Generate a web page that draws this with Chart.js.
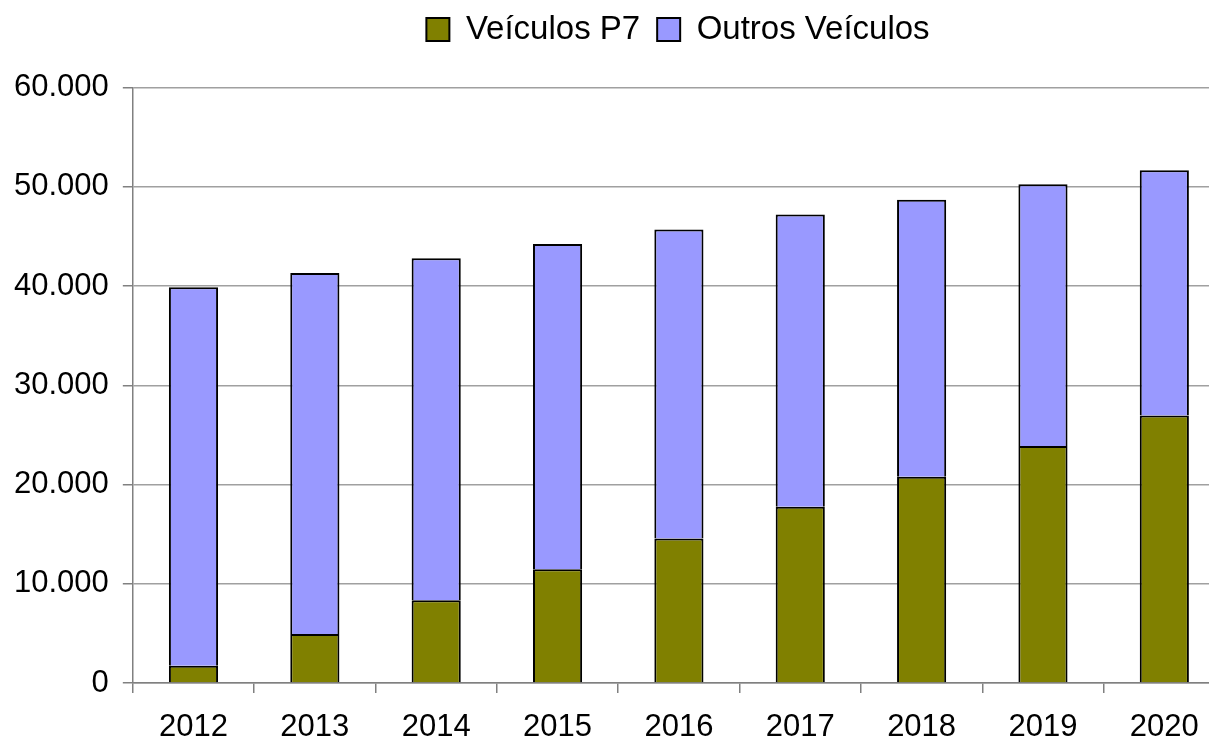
<!DOCTYPE html>
<html>
<head>
<meta charset="utf-8">
<script src="https://cdn.jsdelivr.net/npm/chart.js@4.4.0/dist/chart.umd.min.js"></script>
<style>
  html, body { margin: 0; padding: 0; background: #fff; overflow: hidden; }
  #wrap { width: 1356px; height: 740px; }
</style>
</head>
<body>
<div id="wrap"><canvas id="chart" width="1356" height="740"></canvas></div>
<script>
// Data
var years = ['2012', '2013', '2014', '2015', '2016', '2017', '2018', '2019', '2020'];
var p7Vehicles = [1740, 4930, 8330, 11450, 14570, 17760, 20780, 23870, 26960];
var otherVehicles = [38140, 36390, 34470, 32790, 31130, 29440, 27920, 26380, 24700];

var fontFamily = '"Liberation Sans", Arial, sans-serif';

function formatThousands(v) {
    // 60000 -> "60.000"
    return String(v).replace(/\B(?=(\d{3})+(?!\d))/g, '.');
}

// Fix the legend block height so the plot starts where the reference does
var legendHeight = {
    id: 'legendHeight',
    beforeInit: function (chart) {
        var origFit = chart.legend.fit;
        chart.legend.fit = function () {
            origFit.bind(chart.legend)();
            this.height = 91.5;
        };
    }
};

var ctx = document.getElementById('chart').getContext('2d');
var chart = new Chart(ctx, {
    type: 'bar',
    data: {
        labels: years,
        datasets: [
            {
                label: 'Veículos P7',
                data: p7Vehicles,
                backgroundColor: '#808000',
                borderColor: '#000000',
                borderWidth: 2,
                barPercentage: 0.405,
                categoryPercentage: 1.0
            },
            {
                label: 'Outros Veículos',
                data: otherVehicles,
                backgroundColor: '#9999FF',
                borderColor: '#000000',
                borderWidth: 2,
                barPercentage: 0.405,
                categoryPercentage: 1.0
            }
        ]
    },
    plugins: [legendHeight],
    options: {
        responsive: false,
        animation: false,
        layout: { padding: { left: 0, top: -4, bottom: -22, right: 0 } },
        plugins: {
            legend: {
                position: 'top',
                labels: {
                    font: { family: fontFamily, size: 33 },
                    color: '#000',
                    boxWidth: 23,
                    boxHeight: 23,
                    padding: 17
                }
            },
            tooltip: { enabled: false }
        },
        scales: {
            x: {
                stacked: true,
                grid: {
                    offset: true,
                    drawOnChartArea: false,
                    drawTicks: true,
                    tickLength: 10,
                    color: '#808080',
                    lineWidth: 1.5
                },
                border: { color: '#808080', width: 1.5 },
                ticks: {
                    font: { family: fontFamily, size: 31, lineHeight: 1 },
                    color: '#000',
                    padding: 19,
                    maxRotation: 0
                }
            },
            y: {
                stacked: true,
                min: 0,
                max: 60000,
                grid: {
                    color: '#a0a0a0',
                    lineWidth: 1.5,
                    tickLength: 10,
                    tickColor: '#808080'
                },
                border: { color: '#808080', width: 1.5 },
                ticks: {
                    stepSize: 10000,
                    font: { family: fontFamily, size: 31 },
                    color: '#000',
                    padding: 14,
                    callback: function (v) { return formatThousands(v); }
                }
            },
            // invisible spacer so the plot runs past the right edge, as in the reference
            yRight: {
                position: 'right',
                display: true,
                grid: { display: false },
                border: { display: false },
                ticks: { display: false },
                afterFit: function (scale) { scale.width = 131; }
            }
        }
    }
});
</script>
</body>
</html>
